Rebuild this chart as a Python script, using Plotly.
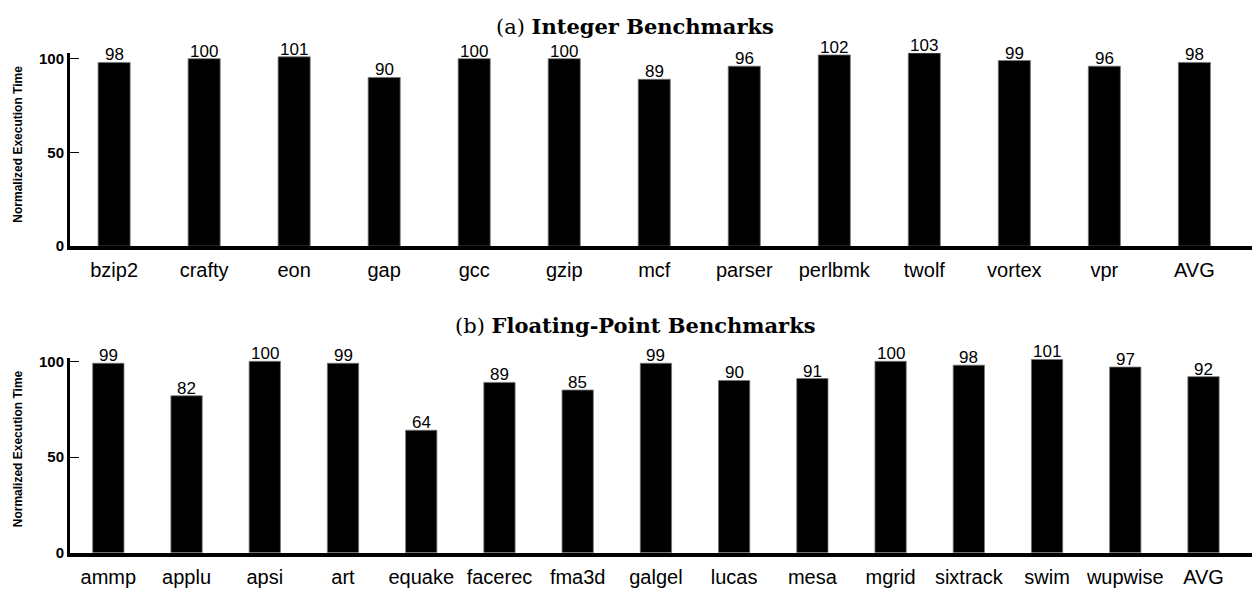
import plotly.graph_objects as go

# SPEC CPU2000 normalized execution time (%)
int_benchmarks = ["bzip2", "crafty", "eon", "gap", "gcc", "gzip", "mcf",
                  "parser", "perlbmk", "twolf", "vortex", "vpr", "AVG"]
int_values = [98, 100, 101, 90, 100, 100, 89, 96, 102, 103, 99, 96, 98]

fp_benchmarks = ["ammp", "applu", "apsi", "art", "equake", "facerec", "fma3d",
                 "galgel", "lucas", "mesa", "mgrid", "sixtrack", "swim",
                 "wupwise", "AVG"]
fp_values = [99, 82, 100, 99, 64, 89, 85, 99, 90, 91, 100, 98, 101, 97, 92]

y_ticks = [0, 50, 100]

W, H = 1252, 591
SANS = "Liberation Sans, Arial, Helvetica, sans-serif"
SERIF = "DejaVu Serif, Liberation Serif, serif"

fig = go.Figure()


def add_panel(names, values, xa, ya, width):
    xs = list(range(len(names)))
    fig.add_trace(go.Bar(
        x=xs,
        y=values,
        width=width,
        marker=dict(color="black", line=dict(color="#777777", width=0.8)),
        xaxis=xa,
        yaxis=ya,
        showlegend=False,
        hoverinfo="skip",
    ))
    # value labels resting on top of each bar
    for x, v in zip(xs, values):
        fig.add_annotation(
            x=x, y=v, xref=xa, yref=ya, text=str(v),
            xanchor="center", yanchor="bottom", yshift=-4,
            showarrow=False,
            font=dict(family=SANS, size=17, color="black"),
        )


add_panel(int_benchmarks, int_values, "x", "y", 0.356)
add_panel(fp_benchmarks, fp_values, "x2", "y2", 0.40)

x_dom = [70 / W, 1.0]


def xaxis(names, rng, anchor):
    return dict(
        domain=x_dom, anchor=anchor, range=rng,
        tickvals=list(range(len(names))), ticktext=names,
        tickfont=dict(family=SANS, size=20, color="black"),
        showline=True, linecolor="black", linewidth=4,
        ticks="", showgrid=False, zeroline=False, fixedrange=True,
        ticklabelstandoff=3,
    )


def yaxis(dom, top, anchor):
    return dict(
        domain=dom, anchor=anchor, range=[0, top],
        tickvals=y_ticks, ticktext=[str(t) for t in y_ticks],
        tickfont=dict(family=SANS, size=15, color="black", weight="bold"),
        showline=True, linecolor="black", linewidth=3,
        ticks="inside", ticklen=9, tickwidth=1.2, tickcolor="black",
        showgrid=False, zeroline=False, fixedrange=True,
    )


fig.update_layout(
    width=W, height=H,
    margin=dict(l=0, r=0, t=0, b=0),
    paper_bgcolor="white", plot_bgcolor="white",
    xaxis=xaxis(int_benchmarks, [-0.49, 12.64], "y"),
    yaxis=yaxis([1 - 246 / H, 1 - 48 / H], 103.1, "x"),
    xaxis2=xaxis(fp_benchmarks, [-0.49, 14.62], "y2"),
    yaxis2=yaxis([1 - 560 / H, 1 - 361 / H], 101.5, "x2"),
)

# panel captions
for text, ypx in [("(a) <b>Integer Benchmarks</b>", 21),
                  ("(b) <b>Floating-Point Benchmarks</b>", 327)]:
    fig.add_annotation(
        text=text, xref="paper", yref="paper",
        x=635 / W, y=1 - ypx / H, xanchor="center", yanchor="middle",
        showarrow=False, font=dict(family=SERIF, size=21, color="black"),
    )

# y-axis titles
for ypx in [142, 454]:
    fig.add_annotation(
        text="<b>Normalized Execution Time</b>", xref="paper", yref="paper",
        x=18 / W, y=1 - ypx / H, xanchor="center", yanchor="middle",
        textangle=-90, showarrow=False,
        font=dict(family=SANS, size=12, color="black"),
    )

fig.write_html("out.html")
